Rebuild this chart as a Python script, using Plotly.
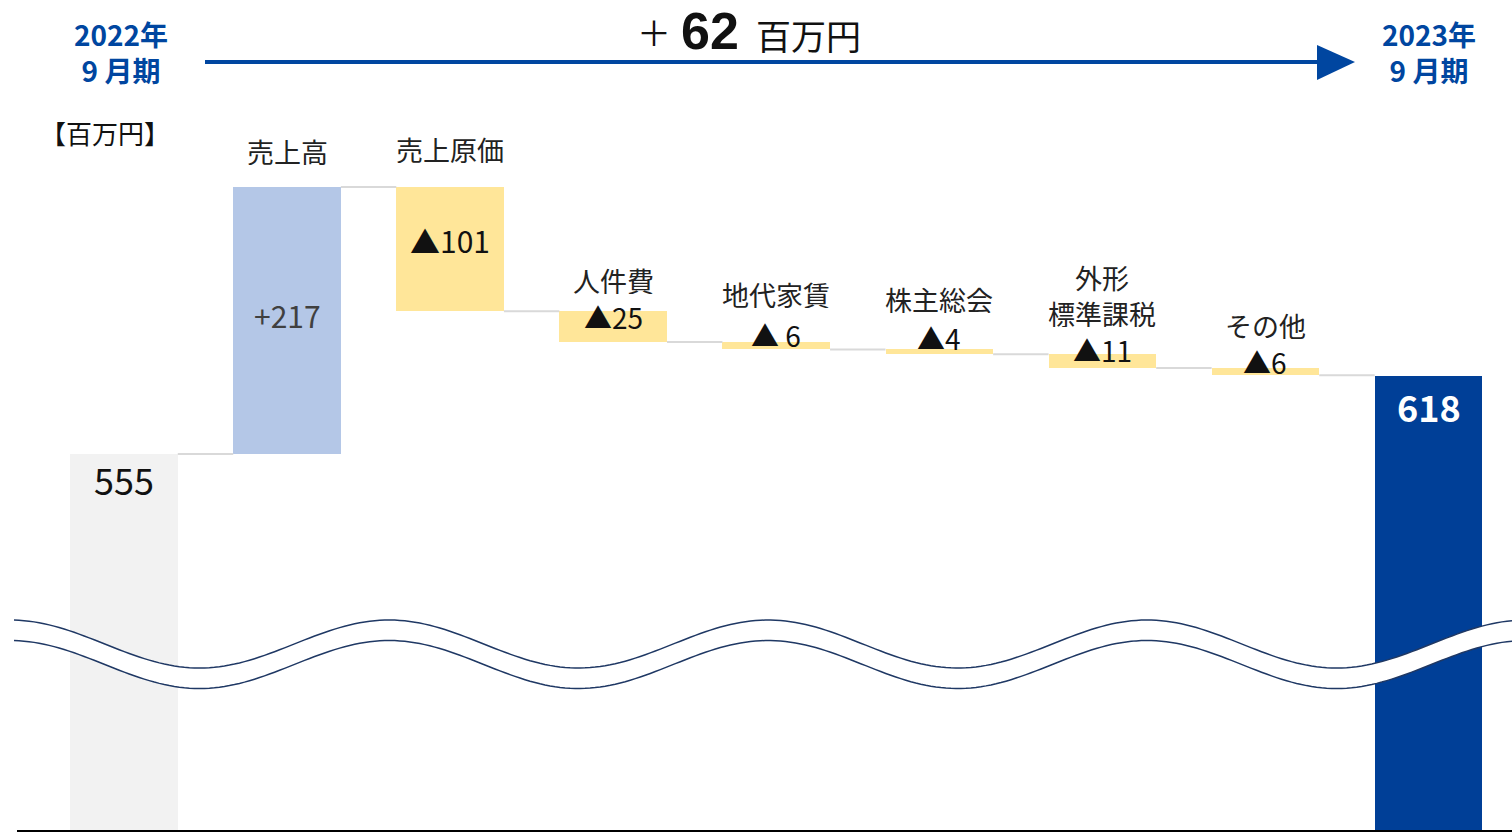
import numpy as np
import plotly.graph_objects as go

# ---- data -------------------------------------------------------------
categories = ["2022年9月期", "売上高", "売上原価", "人件費", "地代家賃",
              "株主総会", "外形<br>標準課税", "その他", "2023年9月期"]
start_value = 555
deltas = [217, -101, -25, -6, -4, -11, -6]
end_value = 618
value_texts = ["555", "+217", "▲101", "▲25", "▲ 6", "▲4", "▲11", "▲6", "<b>618</b>"]
total_change = "62"

# ---- derived bar geometry (bases / heights from the data) -------------
levels = [start_value]
for d in deltas:
    levels.append(levels[-1] + d)
bases = [0] + [min(levels[i], levels[i + 1]) for i in range(len(deltas))] + [0]
heights = [start_value] + [abs(d) for d in deltas] + [end_value]
xs = list(range(len(categories)))

GRAY, UP, DOWN, TOTAL = "#f2f2f2", "#b4c7e7", "#ffe699", "#003f97"
colors = [GRAY] + [UP if d > 0 else DOWN for d in deltas] + [TOTAL]
HEAD = "#0046a0"
FONT = "Noto Sans CJK JP"

W, H = 1512, 832
ML, MR, MT, MB = 17, 0, 0, 2
PW, PH = W - ML - MR, H - MT - MB
Y_RANGE = [249.4, 924.0]
X_RANGE = [-0.656, 8.512]
BAR_W = 0.66


def pxx(p):
    return (p - ML) / PW


def pxy(p):
    return (MT + PH - p) / PH


fig = go.Figure()

fig.add_trace(go.Bar(
    x=xs, y=heights, base=bases, width=BAR_W,
    marker=dict(color=colors, line=dict(width=0)),
    hoverinfo="skip", showlegend=False,
))

# connector lines between consecutive bars at the running level
cx, cy = [], []
for i in range(len(categories) - 1):
    lvl = levels[i]
    cx += [i + BAR_W / 2, i + 1 - BAR_W / 2, None]
    cy += [lvl, lvl, None]
fig.add_trace(go.Scatter(x=cx, y=cy, mode="lines",
                         line=dict(color="#d9d9d9", width=2),
                         hoverinfo="skip", showlegend=False))

annotations = []

# value labels: anchored to the lower edge of each step, shifted in pixels
anchor = [start_value]
for i, d in enumerate(deltas):
    anchor.append(min(levels[i], levels[i + 1]))
anchor.append(end_value)
value_shift = [-25, 0, 0, 26, 15, 17, 18, 14, -30]
value_size = [36, 30, 30, 28, 28, 28, 28, 28, 36]
value_color = ["#111111", "#404040", "#111111", "#111111", "#111111",
               "#111111", "#111111", "#111111", "#ffffff"]
for i, t in enumerate(value_texts):
    y = anchor[i]
    ys = value_shift[i]
    if i == 1:
        y = (levels[0] + levels[1]) / 2
        ys = 6
    elif i == 2:
        y = (levels[1] + levels[2]) / 2
        ys = 9
    annotations.append(dict(
        x=xs[i], y=y, xref="x", yref="y", text=t, showarrow=False,
        yshift=ys, yanchor="middle", xanchor="center",
        height=round(value_size[i] * 1.05), valign="middle",
        font=dict(family=FONT, size=value_size[i], color=value_color[i]),
    ))

# category labels above each change bar
cat_shift = [36, 38, 31, 48, 50, 59, 43]
for i in range(1, len(categories) - 1):
    top = max(levels[i - 1], levels[i])
    n_lines = categories[i].count("<br>") + 1
    annotations.append(dict(
        x=xs[i], y=top, xref="x", yref="y", text=categories[i],
        showarrow=False, yshift=cat_shift[i - 1], yanchor="middle",
        xanchor="center", height=28 + (n_lines - 1) * 35, valign="middle",
        font=dict(family=FONT, size=27, color="#222222"),
    ))

# header
annotations += [
    dict(x=pxx(121), y=pxy(52), xref="paper", yref="paper",
         text="<b>2022年<br>9 月期</b>", showarrow=False,
         xanchor="center", yanchor="middle", align="center",
         font=dict(family=FONT, size=28, color=HEAD)),
    dict(x=pxx(1429), y=pxy(52), xref="paper", yref="paper",
         text="<b>2023年<br>9 月期</b>", showarrow=False,
         xanchor="center", yanchor="middle", align="center",
         font=dict(family=FONT, size=28, color=HEAD)),
    dict(x=pxx(654), y=pxy(31), xref="paper", yref="paper",
         text="＋", showarrow=False, xanchor="center", yanchor="middle",
         font=dict(family=FONT, size=34, color="#111111")),
    dict(x=pxx(710), y=pxy(0.5), xref="paper", yref="paper",
         text="<b>" + total_change + "</b>", showarrow=False,
         xanchor="center", yanchor="top",
         font=dict(family="Liberation Sans", size=52, color="#111111")),
    dict(x=pxx(754), y=pxy(34), xref="paper", yref="paper",
         text="百万円", showarrow=False, xanchor="left", yanchor="middle",
         font=dict(family=FONT, size=35, color="#111111")),
    dict(x=pxx(105), y=pxy(133), xref="paper", yref="paper",
         text="【百万円】", showarrow=False, xanchor="center",
         yanchor="middle", font=dict(family=FONT, size=26, color="#111111")),
]

shapes = [
    dict(type="line", xref="paper", yref="paper",
         x0=pxx(205), x1=pxx(1322), y0=pxy(62), y1=pxy(62),
         line=dict(color=HEAD, width=4)),
    dict(type="path", xref="paper", yref="paper",
         path=f"M {pxx(1317)} {pxy(45)} L {pxx(1355)} {pxy(62)} "
              f"L {pxx(1317)} {pxy(80)} Z",
         fillcolor=HEAD, line=dict(width=0)),
]

# axis-break band (double wavy line)
wx = np.linspace(14, W, 300)
top_wave = 644 - 24 * np.cos(2 * np.pi * (wx - 10) / 379)
bot_wave = top_wave + 20.5


def path_of(xv, yv):
    pts = [f"{pxx(a):.5f} {pxy(b):.5f}" for a, b in zip(xv, yv)]
    return "M " + " L ".join(pts)


band = path_of(wx, top_wave) + " L " + " L ".join(
    f"{pxx(a):.5f} {pxy(b):.5f}" for a, b in zip(wx[::-1], bot_wave[::-1])) + " Z"
shapes += [
    dict(type="path", xref="paper", yref="paper", path=band,
         fillcolor="white", line=dict(width=0), layer="above"),
    dict(type="path", xref="paper", yref="paper", path=path_of(wx, top_wave),
         line=dict(color="#1f3864", width=1.5), layer="above"),
    dict(type="path", xref="paper", yref="paper", path=path_of(wx, bot_wave),
         line=dict(color="#1f3864", width=1.5), layer="above"),
]

fig.update_layout(
    width=W, height=H,
    margin=dict(l=ML, r=MR, t=MT, b=MB),
    paper_bgcolor="white", plot_bgcolor="white",
    bargap=0, showlegend=False,
    annotations=annotations, shapes=shapes,
    xaxis=dict(range=X_RANGE, showgrid=False, zeroline=False,
               showticklabels=False, ticks="", showline=True,
               linecolor="black", linewidth=2, fixedrange=True),
    yaxis=dict(range=Y_RANGE, showgrid=False, zeroline=False,
               showticklabels=False, ticks="", showline=False,
               fixedrange=True),
)

fig.write_html("out.html")
